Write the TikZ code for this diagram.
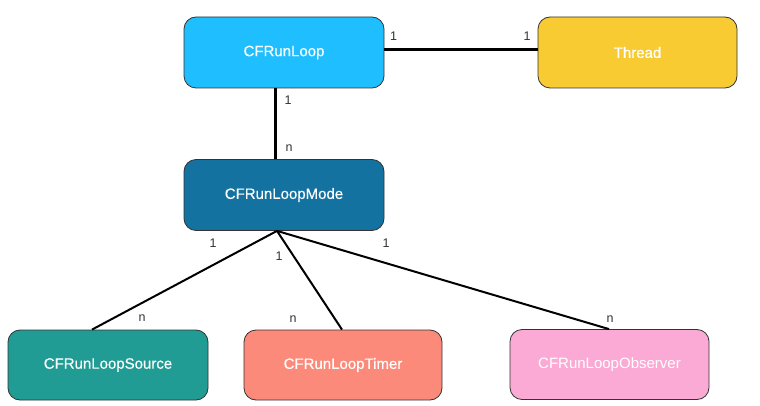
\documentclass[tikz,border=0pt]{standalone}
\usepackage{fontspec}
\setmainfont{Liberation Sans}
\newfontfamily\boxfont[FakeBold=0.4]{Liberation Sans}
\definecolor{cRL}{HTML}{1FBEFE}
\definecolor{cTH}{HTML}{F8CB33}
\definecolor{cMD}{HTML}{13729F}
\definecolor{cSR}{HTML}{219C94}
\definecolor{cTM}{HTML}{FC8A7A}
\definecolor{cOB}{HTML}{FAAAD4}
\definecolor{cLB}{HTML}{333333}
\begin{document}
\begin{tikzpicture}[x=1pt,y=-1pt,
  box/.style={draw=black!80, line width=0.8pt, rounded corners=12pt,
    minimum width=200pt, minimum height=71pt, inner sep=0pt,
    text=white, font=\boxfont\fontsize{15}{18}\selectfont},
  lab/.style={text=cLB, font=\fontsize{12.5}{14}\selectfont, inner sep=0pt},
  thickline/.style={line width=3pt, black},
  thinline/.style={line width=2pt, black}]
\useasboundingbox[fill=white] (0,0) rectangle (760,406);
\node[box, fill=cRL] (rl) at (284,52.5) {CFRunLoop};
\node[box, fill=cTH, minimum width=199pt] (th) at (637.5,52.5) {Thread};
\node[box, fill=cMD] (md) at (284,195) {CFRunLoopMode};
\node[box, fill=cSR, minimum height=70pt] (sr) at (108,365) {CFRunLoopSource};
\node[box, fill=cTM, minimum width=198pt, minimum height=70pt] (tm) at (343,365) {CFRunLoopTimer};
\node[box, fill=cOB, minimum width=199pt, minimum height=70pt, font=\fontsize{15}{18}\selectfont] (ob) at (609.5,364.5) {CFRunLoopObserver};
\coordinate (apex) at ([xshift=-7pt]md.south);
\draw[thickline] ([yshift=3pt]rl.east) -- ([yshift=3pt]th.west);
\draw[thickline] ([xshift=-9pt]rl.south) -- ([xshift=-9pt]md.north);
\draw[thinline] (apex) -- ([xshift=-16pt]sr.north);
\draw[thinline] (apex) -- ([xshift=-1pt]tm.north);
\draw[thinline] (apex) -- ([xshift=-0.5pt]ob.north);
\node[lab] (l1) at (393.5,36) {1};
\node[lab] (l2) at (527,36) {1};
\node[lab] (l3) at (288,100) {1};
\node[lab] (l4) at (289,148) {n};
\node[lab] (l5) at (213,243) {1};
\node[lab] (l6) at (279,256) {1};
\node[lab] (l7) at (386,243) {1};
\node[lab] (l8) at (142,318) {n};
\node[lab] (l9) at (293,319) {n};
\node[lab] (l10) at (610,319) {n};
\end{tikzpicture}
\end{document}
